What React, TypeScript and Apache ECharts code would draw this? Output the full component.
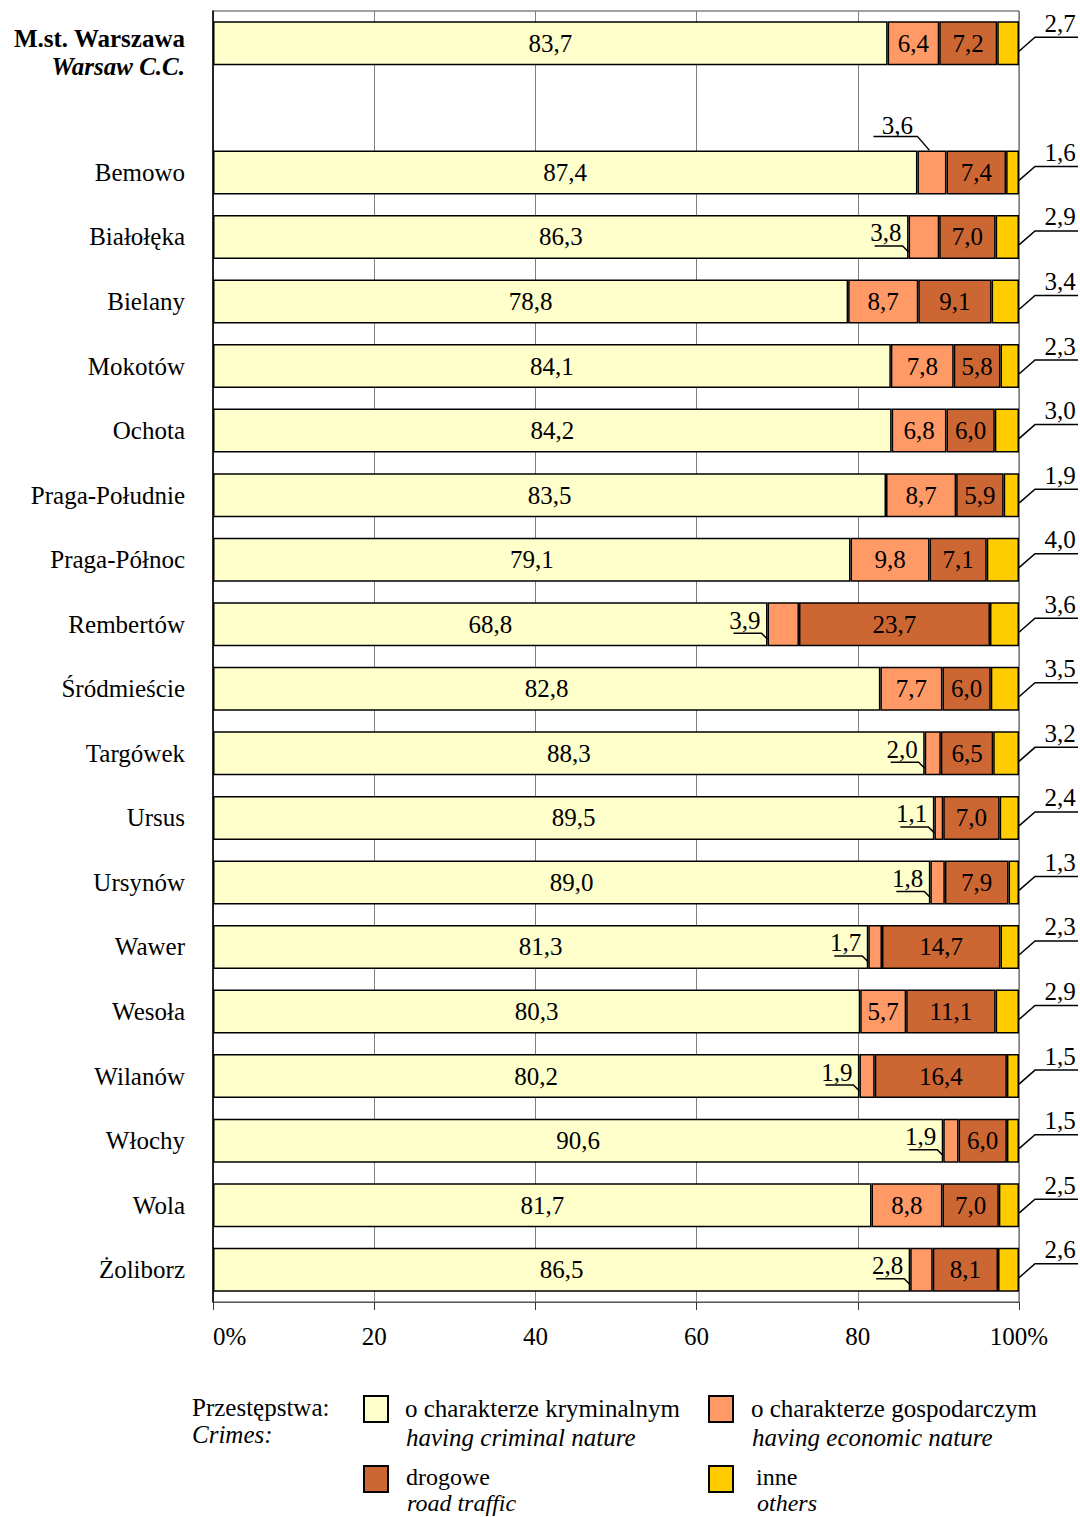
import React, { useEffect, useRef } from 'react';
import * as echarts from 'echarts';

const FONT = '"Liberation Serif", "Times New Roman", serif';

const categories = ['M.st. Warszawa', '', 'Bemowo', 'Białołęka', 'Bielany', 'Mokotów', 'Ochota', 'Praga-Południe', 'Praga-Północ', 'Rembertów', 'Śródmieście', 'Targówek', 'Ursus', 'Ursynów', 'Wawer', 'Wesoła', 'Wilanów', 'Włochy', 'Wola', 'Żoliborz'];
const criminal = [83.7, null, 87.4, 86.3, 78.8, 84.1, 84.2, 83.5, 79.1, 68.8, 82.8, 88.3, 89.5, 89.0, 81.3, 80.3, 80.2, 90.6, 81.7, 86.5];
const economic = [6.4, null, 3.6, 3.8, 8.7, 7.8, 6.8, 8.7, 9.8, 3.9, 7.7, 2.0, 1.1, 1.8, 1.7, 5.7, 1.9, 1.9, 8.8, 2.8];
const road = [7.2, null, 7.4, 7.0, 9.1, 5.8, 6.0, 5.9, 7.1, 23.7, 6.0, 6.5, 7.0, 7.9, 14.7, 11.1, 16.4, 6.0, 7.0, 8.1];
const others = [2.7, null, 1.6, 2.9, 3.4, 2.3, 3.0, 1.9, 4.0, 3.6, 3.5, 3.2, 2.4, 1.3, 2.3, 2.9, 1.5, 1.5, 2.5, 2.6];
const xTicks = [0, 20, 40, 60, 80, 100];

const seriesNames = ['o charakterze kryminalnym', 'o charakterze gospodarczym', 'drogowe', 'inne'];
const seriesNamesEn = ['having criminal nature', 'having economic nature', 'road traffic', 'others'];
const colors = ['#FFFFCC', '#FF9966', '#CC6633', '#FFCC00'];

const fmt = (v: number) => v.toFixed(1).replace('.', ',');

// small economic labels placed outside segment (1 = above bar)
const econOutside: any[] = [];
economic.forEach((v, i) => {
  if (v !== null && v < 5) econOutside.push([criminal[i], i, v, i === 2 ? 1 : 0]);
});
const othersLabels: any[] = [];
others.forEach((v, i) => {
  if (v !== null) othersLabels.push([(criminal[i] as number) + (economic[i] as number) + (road[i] as number) + v, i, v]);
});

const labelBase = { color: '#000', fontFamily: FONT, fontSize: 25 };

function buildOption(): any {
  const dataSets = [criminal, economic, road, others];
  const bars = dataSets.map((d, k) => ({
    name: seriesNames[k],
    type: 'bar',
    stack: 'total',
    barWidth: 44,
    data: d,
    itemStyle: { color: colors[k], borderColor: '#000', borderWidth: 1.5 },
    label: {
      show: k !== 3,
      position: 'inside',
      ...labelBase,
      formatter: (p: any) => (p.value == null ? '' : k === 1 && p.value < 5 ? '' : fmt(p.value)),
    },
    z: 2,
  }));

  const textStyle = (t: string, x: number, y: number, align: string, italic = false, size = 25) => ({
    type: 'text',
    style: {
      text: t,
      x,
      y,
      align,
      verticalAlign: 'middle',
      fill: '#000',
      font: `${italic ? 'italic ' : ''}${size}px ${FONT}`,
    },
  });

  const econLabelSeries = {
    type: 'custom',
    name: 'econLabels',
    data: econOutside,
    encode: { x: 0, y: 1 },
    clip: false,
    z: 10,
    silent: true,
    renderItem: (params: any, api: any) => {
      const p = api.coord([api.value(0), api.value(1)]);
      const sx = p[0];
      const cy = p[1];
      const txt = fmt(api.value(2));
      const mode = api.value(3);
      if (mode === 1) {
        return {
          type: 'group',
          children: [
            textStyle(txt, sx - 20, cy - 47, 'center'),
            {
              type: 'polyline',
              shape: { points: [[sx - 44, cy - 36], [sx, cy - 36], [sx + 12, cy - 22]] },
              style: { stroke: '#000', lineWidth: 1.5, fill: null },
            },
          ],
        };
      }
      return {
        type: 'group',
        children: [
          textStyle(txt, sx - 7, cy - 4, 'right'),
          {
            type: 'polyline',
            shape: { points: [[sx - 34, cy + 9], [sx - 6, cy + 9], [sx, cy + 15]] },
            style: { stroke: '#000', lineWidth: 1.5, fill: null },
          },
        ],
      };
    },
  };

  const othersLabelSeries = {
    type: 'custom',
    name: 'othersLabels',
    data: othersLabels,
    encode: { x: 0, y: 1 },
    clip: false,
    z: 10,
    silent: true,
    renderItem: (params: any, api: any) => {
      const p = api.coord([api.value(0), api.value(1)]);
      const x = p[0];
      const cy = p[1];
      return {
        type: 'group',
        children: [
          textStyle(fmt(api.value(2)), x + 41, cy - 20, 'center'),
          {
            type: 'polyline',
            shape: { points: [[x, cy + 8], [x + 16, cy - 6], [x + 59, cy - 6]] },
            style: { stroke: '#000', lineWidth: 1.5, fill: null },
          },
        ],
      };
    },
  };

  // legend built with graphic elements
  const legendPos = [
    [364, 1396, 405, 1408, 1437],
    [709, 1396, 751, 1408, 1437],
    [364, 1466, 406, 1477, 1503],
    [709, 1466, 756, 1477, 1503],
  ];
  const legendEls: any[] = [
    textStyle('Przestępstwa:', 192, 1407, 'left'),
    textStyle('Crimes:', 192, 1434, 'left', true),
  ];
  legendPos.forEach(([rx, ry, tx, ty, ty2], k) => {
    legendEls.push({
      type: 'rect',
      shape: { x: rx, y: ry, width: 24, height: 26 },
      style: { fill: colors[k], stroke: '#000', lineWidth: 2 },
    });
    legendEls.push(textStyle(seriesNames[k], tx, ty, 'left', false, k < 2 ? 25 : 24));
    legendEls.push(textStyle(seriesNamesEn[k], tx + 1, ty2, 'left', true, k < 2 ? 25 : 24));
  });

  return {
    animation: false,
    backgroundColor: '#fff',
    grid: {
      left: 213,
      right: 61,
      top: 11,
      bottom: 215,
      show: true,
      borderColor: '#444',
      borderWidth: 1,
      backgroundColor: 'transparent',
    },
    xAxis: {
      type: 'value',
      min: xTicks[0],
      max: xTicks[xTicks.length - 1],
      interval: 20,
      axisLine: { show: true, lineStyle: { color: '#555', width: 1 } },
      axisTick: { show: true, length: 8, lineStyle: { color: '#333', width: 1 } },
      splitLine: { show: true, lineStyle: { color: '#808080', width: 1 } },
      axisLabel: {
        ...labelBase,
        margin: 22,
        alignMinLabel: 'left',
        formatter: (v: number) => (v === 0 || v === 100 ? `${v}%` : String(v)),
      },
    },
    yAxis: {
      type: 'category',
      data: categories,
      inverse: true,
      axisLine: { show: true, lineStyle: { color: '#000', width: 1.5 } },
      axisTick: { show: false },
      splitLine: { show: false },
      axisLabel: {
        ...labelBase,
        margin: 28,
        formatter: (v: string, i: number) =>
          i === 0 ? `{s| }\n{b|${v}}\n{i|Warsaw C.C.}` : v,
        rich: {
          s: { lineHeight: 18, fontSize: 10, align: 'right' },
          b: { ...labelBase, fontWeight: 'bold', lineHeight: 28, align: 'right' },
          i: { ...labelBase, fontWeight: 'bold', fontStyle: 'italic', lineHeight: 28, align: 'right' },
        },
      },
    },
    series: [...bars, econLabelSeries, othersLabelSeries],
    graphic: legendEls,
  };
}

export default function App() {
  const ref = useRef<HTMLDivElement>(null);
  useEffect(() => {
    document.body.style.margin = '0';
    const chart = echarts.init(ref.current!, null, { renderer: 'svg' });
    chart.setOption(buildOption());
    return () => chart.dispose();
  }, []);
  return <div ref={ref} style={{ width: 1080, height: 1517 }} />;
}
